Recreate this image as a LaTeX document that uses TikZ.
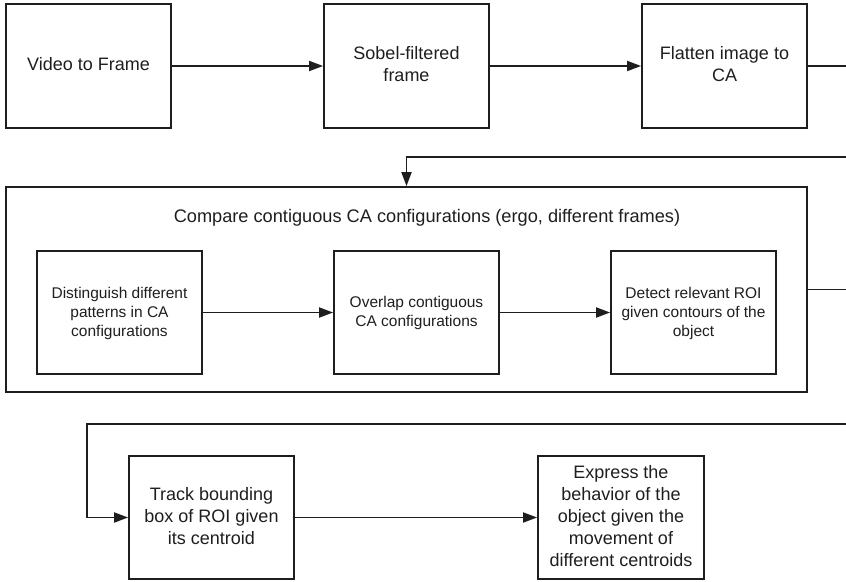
\documentclass[tikz,border=0pt]{standalone}
\usepackage{fontspec}
\setmainfont{Liberation Sans}
\usetikzlibrary{arrows.meta}
\definecolor{ink}{HTML}{1E1E1E}
\tikzset{
  box/.style={draw=ink, line width=1.8pt, minimum width=165pt, minimum height=124pt, align=center, text=ink, inner sep=2pt, text depth=4pt, font=\fontsize{18}{22}\selectfont},
  ibox/.style={box, text depth=2pt, minimum height=123pt, font=\fontsize{15.5}{19}\selectfont},
  conn/.style={draw=ink, line width=1.8pt},
  arr/.style={conn, -{Triangle[length=14pt,width=10pt]}}
}
\begin{document}
\begin{tikzpicture}[x=1pt,y=-1pt]
\useasboundingbox (0,0) rectangle (846,581);
% top row
\node[box] (vf) at (88.5,66) {Video to Frame};
\node[box] (sob) at (406.5,66) {Sobel-filtered\\frame};
\node[box] (fl) at (724.5,66) {Flatten image to\\CA};
% big container
\node[draw=ink, line width=1.8pt, minimum width=801pt, minimum height=205pt, inner sep=0pt] (cmp) at (406.5,289.5) {};
\node[text=ink, font=\fontsize{18.2}{22}\selectfont, anchor=base] (ttl) at (427,222) {Compare contiguous CA configurations (ergo, different frames)};
\node[ibox] (dis) at (119.5,312.5) {Distinguish different\\patterns in CA\\configurations};
\node[ibox] (ovl) at (416.5,312.5) {Overlap contiguous\\CA configurations};
\node[ibox] (det) at (693.5,312.5) {Detect relevant ROI\\given contours of the\\object};
% bottom row
\node[box, minimum height=123pt] (trk) at (211.5,517.5) {Track bounding\\box of ROI given\\its centroid};
\node[box, minimum height=123pt, minimum width=166pt] (exp) at (621,517.5) {Express the\\behavior of the\\object given the\\movement of\\different centroids};
% free ends
\coordinate (e1) at (846,66);
\coordinate (e2) at (846,157);
\coordinate (e3) at (846,289.5);
\coordinate (e4) at (846,424);
\coordinate (lft) at (87,424);
% connectors
\draw[arr] (vf) -- (sob);
\draw[arr] (sob) -- (fl);
\draw[conn] (fl.east) -- (e1);
\draw[arr] (e2) -| (cmp.north);
\draw[arr] (dis) -- (ovl);
\draw[arr] (ovl) -- (det);
\draw[conn] (cmp.east) -- (e3);
\draw[arr] (e4) -- (lft) |- (trk.west);
\draw[arr] (trk) -- (exp);
\end{tikzpicture}
\end{document}
